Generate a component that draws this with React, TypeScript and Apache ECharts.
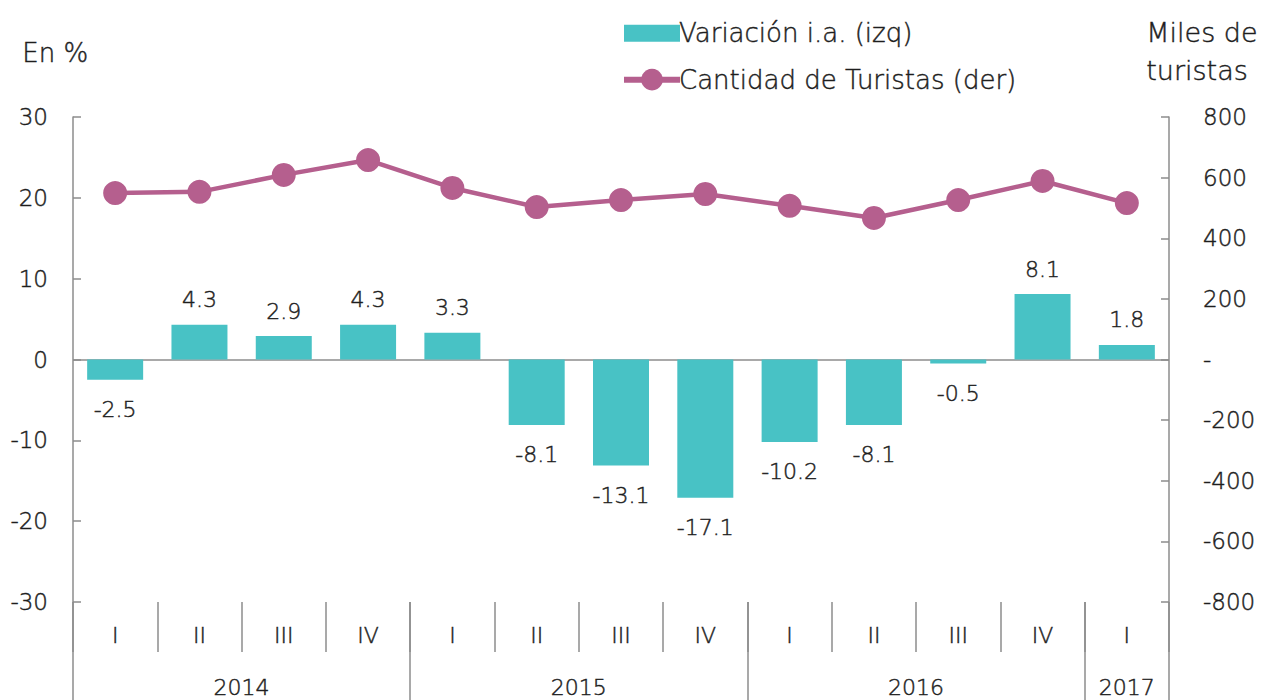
import React, { useEffect, useRef } from "react";
import * as echarts from "echarts";

const quarters = ["I", "II", "III", "IV", "I", "II", "III", "IV", "I", "II", "III", "IV", "I"];
const years = ["2014", "2015", "2016", "2017"];
const yearSpans = [4, 4, 4, 1];
const variacion = [-2.5, 4.3, 2.9, 4.3, 3.3, -8.1, -13.1, -17.1, -10.2, -8.1, -0.5, 8.1, 1.8];
const turistas = [549, 553, 609, 658, 566, 503, 526, 546, 507, 467, 526, 589, 516];

const FONT = "'DejaVu Sans', sans-serif";
const FW = 200;
const TXT = "#1e1e1e";
const AX = "#8c8c8c";
const SW = 0.45;

export default function App() {
  const ref = useRef<HTMLDivElement>(null);
  useEffect(() => {
    if (!ref.current) return;
    const chart = echarts.init(ref.current, null, { renderer: "svg" });

    const yearData: string[] = [];
    const boundaries: number[] = [0];
    let pos = 0;
    years.forEach((y, i) => {
      pos += yearSpans[i] * 2;
      boundaries.push(pos);
    });
    for (let i = 0; i <= pos; i++) yearData.push("");
    let start = 0;
    years.forEach((y, i) => {
      yearData[start + yearSpans[i]] = y;
      start += yearSpans[i] * 2;
    });

    const txt = {
      fontSize: 22,
      color: TXT,
      fontFamily: FONT,
      fontWeight: FW,
      textBorderColor: TXT,
      textBorderWidth: SW,
    };

    const option: any = {
      animation: false,
      textStyle: { fontFamily: FONT, fontWeight: FW },
      legend: {
        orient: "vertical",
        left: 616,
        top: 15,
        itemGap: 20,
        itemWidth: 56,
        itemHeight: 27,
        symbolKeepAspect: true,
        textStyle: { ...txt, fontSize: 26, padding: [0, 0, 0, -6] },
        data: [
          { name: "Variación i.a. (izq)", icon: "path://M0,0h56v17h-56z" },
          { name: "Cantidad de Turistas (der)", lineStyle: { width: 6 } },
        ],
      },
      graphic: [
        {
          type: "text",
          left: 22,
          top: 40,
          style: { text: "En %", fontSize: 26, fill: TXT, fontFamily: FONT, fontWeight: FW, stroke: TXT, lineWidth: SW },
        },
        {
          type: "text",
          left: 1146,
          top: 13,
          style: {
            text: "Miles de\nturistas",
            fontSize: 27,
            fill: TXT,
            fontFamily: FONT,
            fontWeight: FW,
            stroke: TXT,
            lineWidth: SW,
            align: "left",
            lineHeight: 38,
          },
        },
      ],
      grid: [
        { left: 73, right: 95, top: 117, bottom: 98 },
        { left: 73, right: 95, top: 602, bottom: 0 },
      ],
      xAxis: [
        {
          type: "category",
          gridIndex: 0,
          data: quarters,
          position: "bottom",
          axisLine: { show: false, onZero: false },
          axisTick: { show: true, length: 50, interval: 0, lineStyle: { color: AX, width: 1.5 } },
          axisLabel: { ...txt, margin: 22 },
        },
        {
          type: "category",
          gridIndex: 1,
          data: yearData,
          boundaryGap: false,
          position: "top",
          axisLine: { show: false, onZero: false },
          axisTick: {
            show: true,
            inside: true,
            length: 98,
            interval: (i: number) => boundaries.includes(i),
            lineStyle: { color: AX, width: 1.5 },
          },
          axisLabel: {
            ...txt,
            inside: true,
            interval: (i: number, v: string) => v !== "",
            margin: 74,
          },
        },
      ],
      yAxis: [
        {
          type: "value",
          gridIndex: 0,
          min: -30,
          max: 30,
          interval: 10,
          axisLine: { show: true, lineStyle: { color: AX, width: 1.5 } },
          axisTick: { show: true, inside: true, length: 8, lineStyle: { color: AX, width: 1.5 } },
          axisLabel: { ...txt, fontSize: 23, margin: 25 },
          splitLine: {
            show: true,
            lineStyle: {
              color: ["transparent", "transparent", "transparent", AX, "transparent", "transparent", "transparent"],
              width: 1.5,
            },
          },
        },
        {
          type: "value",
          gridIndex: 0,
          position: "right",
          min: -800,
          max: 800,
          interval: 200,
          axisLine: { show: true, lineStyle: { color: AX, width: 1.5 } },
          axisTick: { show: true, inside: true, length: 8, lineStyle: { color: AX, width: 1.5 } },
          axisLabel: {
            ...txt,
            fontSize: 23,
            margin: 34,
            formatter: (v: number) => (v === 0 ? "-" : String(v)),
          },
          splitLine: { show: false },
        },
        {
          type: "value",
          gridIndex: 1,
          show: false,
        },
      ],
      series: [
        {
          name: "Variación i.a. (izq)",
          type: "bar",
          xAxisIndex: 0,
          yAxisIndex: 0,
          barWidth: 56,
          itemStyle: { color: "#48C2C5" },
          data: variacion.map((v) => ({
            value: v,
            label: {
              show: true,
              position: v < 0 ? "bottom" : "top",
              distance: v < 0 ? 19 : 14,
              ...txt,
            },
          })),
        },
        {
          name: "Cantidad de Turistas (der)",
          type: "line",
          xAxisIndex: 0,
          yAxisIndex: 1,
          data: turistas,
          symbol: "circle",
          symbolSize: 24,
          lineStyle: { color: "#B55F8E", width: 4.5 },
          itemStyle: { color: "#B55F8E" },
        },
      ],
    };
    chart.setOption(option);
    return () => chart.dispose();
  }, []);
  return <div ref={ref} style={{ width: 1264, height: 700, position: "absolute", left: 0, top: 0 }} />;
}
